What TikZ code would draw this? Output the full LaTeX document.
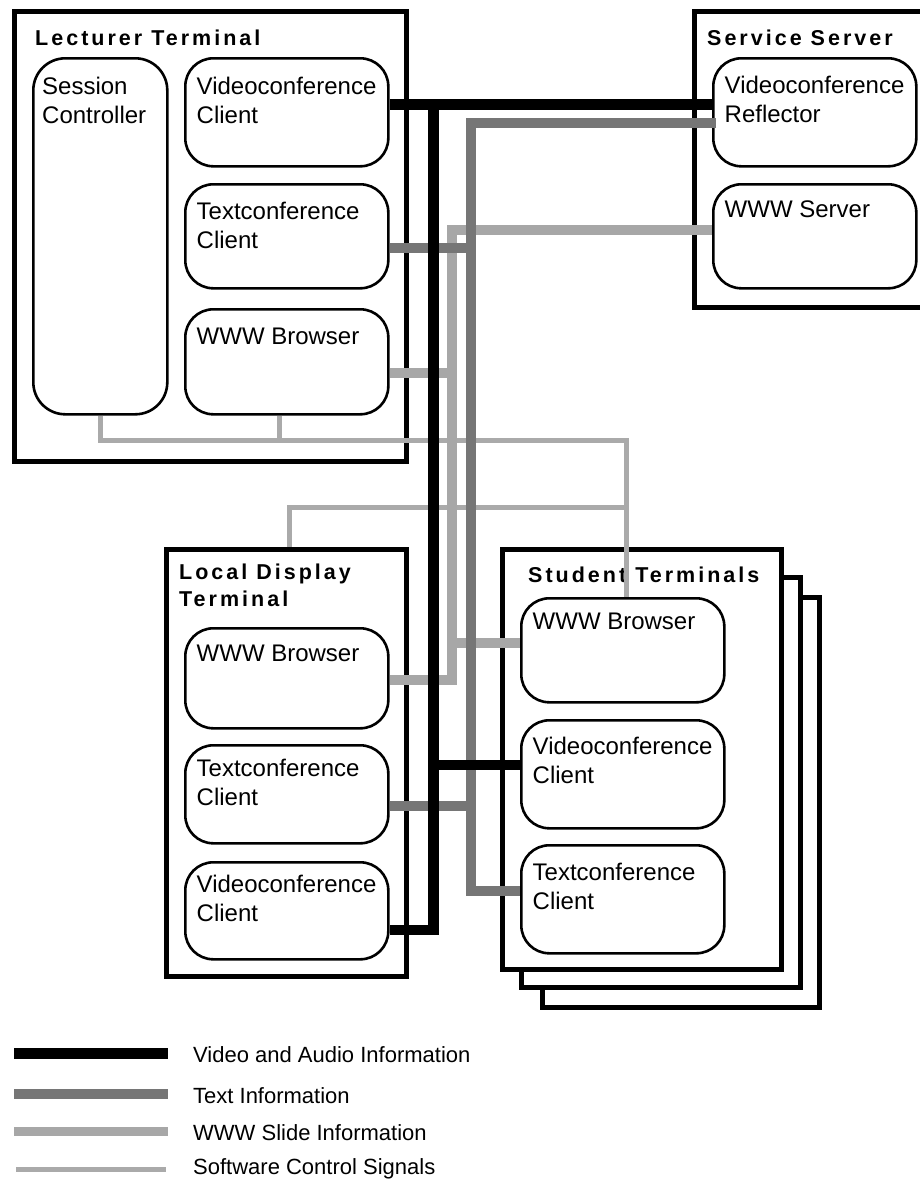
\documentclass[tikz,border=0pt]{standalone}
\usepackage{fontspec}
\setmainfont{Liberation Sans}
\newfontfamily\ttlfont{Liberation Sans}[LetterSpace=14]
\definecolor{txtc}{HTML}{767676}
\definecolor{wwwc}{HTML}{A7A7A7}
\definecolor{ctlc}{HTML}{AAAAAA}
\newcommand\boxtxt[4]{\node[txt] (#1-t) at ([shift={(#2,#3)}]#1.north west) {\parbox[t]{230pt}{\raggedright #4}};}
\begin{document}
\begin{tikzpicture}[x=1pt,y=-1pt,
  term/.style={draw, line width=5pt, anchor=north west, inner sep=0pt},
  rbox/.style={draw, line width=2.6pt, rounded corners=28pt, anchor=north west, inner sep=0pt},
  txt/.style={anchor=base west, inner sep=0pt, font=\fontsize{24}{29}\selectfont},
  ttl/.style={anchor=base west, inner sep=0pt, align=left, font=\ttlfont\bfseries\fontsize{21.5}{27}\selectfont},
  lgd/.style={anchor=base west, inner sep=0pt, font=\fontsize{22}{26}\selectfont},
  vid/.style={draw=black, line width=10.5pt, line join=miter},
  txl/.style={draw=txtc, line width=10pt, line join=miter},
  wwl/.style={draw=wwwc, line width=9.5pt, line join=miter},
  ctl/.style={draw=ctlc, line width=5pt, line join=miter}]
\useasboundingbox (0,0) rectangle (920,1179);

% Lecturer Terminal
\node[term, minimum width=392pt, minimum height=450pt] (lt) at (12,9) {};
\node[rbox, minimum width=134pt, minimum height=356pt, rounded corners=32pt] (sc) at (32,57) {};
\node[rbox, minimum width=203pt, minimum height=108pt] (lvc) at (184,57) {};
\node[rbox, minimum width=203pt, minimum height=104pt] (ltc) at (184,183) {};
\node[rbox, minimum width=203pt, minimum height=105pt] (lww) at (184,308) {};
\node[ttl] (lt-t) at ([shift={(23,36)}]lt.north west) {Lecturer Terminal};
\boxtxt{sc}{10}{37}{Session\\Controller}
\boxtxt{lvc}{12.5}{37}{Videoconference\\Client}
\boxtxt{ltc}{12.5}{36}{Textconference\\Client}
\boxtxt{lww}{12.5}{36}{WWW Browser}

% Service Server
\node[term, minimum width=240pt, minimum height=296pt] (ss) at (692,9) {};
\node[rbox, minimum width=203pt, minimum height=108pt] (ref) at (712,57) {};
\node[rbox, minimum width=203pt, minimum height=104pt] (wws) at (712,183) {};
\node[ttl] (ss-t) at ([shift={(15,36)}]ss.north west) {Service Server};
\boxtxt{ref}{12.5}{36}{Videoconference\\Reflector}
\boxtxt{wws}{12.5}{34}{WWW Server}

% Local Display Terminal
\node[term, minimum width=240pt, minimum height=427pt] (ld) at (164,547) {};
\node[rbox, minimum width=203pt, minimum height=100pt] (dww) at (184,627) {};
\node[rbox, minimum width=203pt, minimum height=98pt] (dtc) at (184,744) {};
\node[rbox, minimum width=203pt, minimum height=97pt] (dvc) at (184,861) {};
\node[ttl] (ld-t) at ([shift={(15,59)}]ld.north west) {Local Display\\Terminal};
\boxtxt{dww}{12.5}{34}{WWW Browser}
\boxtxt{dtc}{12.5}{32}{Textconference\\Client}
\boxtxt{dvc}{12.5}{31}{Videoconference\\Client}

% Student Terminals (stack)
\node[term, fill=white, minimum width=277pt, minimum height=410pt] (st3) at (540,595) {};
\node[term, fill=white, minimum width=279pt, minimum height=410pt] (st2) at (519,575) {};
\node[term, fill=white, minimum width=279pt, minimum height=420pt] (st1) at (500,547) {};
\node[rbox, minimum width=203pt, minimum height=104pt] (sww) at (520,597) {};
\node[rbox, minimum width=203pt, minimum height=108pt] (svc) at (520,719) {};
\node[rbox, minimum width=203pt, minimum height=108pt] (stc) at (520,844) {};
\node[ttl] (st-t) at ([shift={(28,35)}]st1.north west) {Student Terminals};
\boxtxt{sww}{12.5}{32}{WWW Browser}
\boxtxt{svc}{12.5}{35}{Videoconference\\Client}
\boxtxt{stc}{12.5}{36}{Textconference\\Client}

% junction coordinates
\coordinate (c1) at (279,440);
\coordinate (c2) at (626,440);
\coordinate (c3) at (289,507);
\coordinate (w1) at (452,230);
\coordinate (w2) at (452,680);
\coordinate (wl) at (457,373);
\coordinate (wb) at (452,643);
\coordinate (t1) at (471,123);
\coordinate (t2) at (471,891);
\coordinate (tl) at (476,248);
\coordinate (td) at (476,806);
\coordinate (v1) at (433.5,104.5);
\coordinate (v2) at (433.5,930);
\coordinate (vb) at (433.5,765);

% Software control signals
\draw[ctl] (sc.south) |- (c2) -- (c2 |- sww.north);
\draw[ctl] (lww.south -| c1) -- (c1);
\draw[ctl] (c3 |- ld.north) -- (c3) -- (c2 |- c3);

% WWW slide information
\draw[wwl] (wws.west |- w1) -- (w1) -- (w2) -- (dww.east |- w2);
\draw[wwl] (lww.east |- wl) -- (wl);
\draw[wwl] (wb) -- (sww.west |- wb);

% Text information
\draw[txl] ([xshift=4pt]ref.west |- t1) -- (t1) -- (t2) -- (stc.west |- t2);
\draw[txl] (ltc.east |- tl) -- (tl);
\draw[txl] (dtc.east |- td) -- (td);

% Video and audio information
\draw[vid] (lvc.east |- v1) -- (ref.west |- v1);
\draw[vid] (v1) -- (v2) -- (dvc.east |- v2);
\draw[vid] (vb) -- (svc.west |- vb);

% Legend
\node[lgd] (lg1) at (193,1062) {Video and Audio Information};
\node[lgd] (lg2) at (193,1103) {Text Information};
\node[lgd] (lg3) at (193,1140) {WWW Slide Information};
\node[lgd] (lg4) at (193,1174) {Software Control Signals};
\draw[line width=11pt, black] (14,1053.5) -- (168,1053.5);
\draw[line width=10pt, txtc] (14,1094) -- (168,1094);
\draw[line width=9.5pt, wwwc] (14,1131.5) -- (168,1131.5);
\draw[line width=5pt, ctlc] (16,1169.5) -- (166,1169.5);
\end{tikzpicture}
\end{document}
